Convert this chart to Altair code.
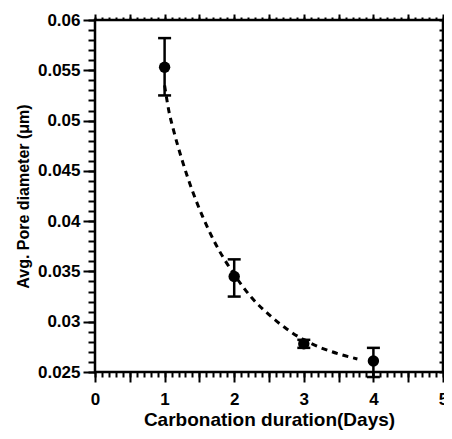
import altair as alt
import pandas as pd

# measured points (days vs avg pore diameter)
days = [1, 2, 3, 4]
diam = [0.0553, 0.0345, 0.0278, 0.0261]
err_lo = [0.0525, 0.0325, 0.0274, 0.0245]
err_hi = [0.0582, 0.0362, 0.0282, 0.0274]

# dashed fit curve
curve_x = [1.0, 1.06, 1.13, 1.25, 1.4, 1.55, 1.72, 2.0, 2.25, 2.5, 2.75, 3.0, 3.25, 3.5, 3.77]
curve_y = [0.0535, 0.0510, 0.0490, 0.0461, 0.0430, 0.0404, 0.0379, 0.0347, 0.0324,
           0.0307, 0.0293, 0.0282, 0.0274, 0.0268, 0.0263]

x_major = [round(i * 0.5, 1) for i in range(11)]
x_minor = [round(i * 0.1, 1) for i in range(51)]
y_major = [round(0.025 + i * 0.005, 3) for i in range(8)]
y_minor = [round(0.025 + i * 0.001, 3) for i in range(36)]

pts = pd.DataFrame({"x": days, "y": diam, "lo": err_lo, "hi": err_hi})
caps = pd.DataFrame({"x": days + days, "y": err_lo + err_hi})
curve = pd.DataFrame({"x": curve_x, "y": curve_y})

FONT = "Liberation Sans"
xs = alt.Scale(domain=[0, 5], nice=False, zero=False)
ys = alt.Scale(domain=[0.025, 0.06], nice=False, zero=False)

common = dict(grid=False, domain=False, tickColor="black", tickWidth=2,
              labelFont=FONT, labelFontSize=17, labelFontWeight="bold",
              labelColor="black", titleFont=FONT, titleFontWeight="bold",
              titleColor="black")

ax_bottom = alt.Axis(orient="bottom", values=x_major, tickSize=10,
                     labelExpr="datum.value % 1 == 0 ? format(datum.value, 'd') : ''",
                     labelPadding=9, labelFlush=False, labelOverlap=False,
                     title="Carbonation duration(Days)", titleFontSize=19,
                     titlePadding=3, **common)
ax_bottom_minor = alt.Axis(orient="bottom", values=x_minor, tickSize=5, labels=False,
                           title=None, **common)
ax_top = alt.Axis(orient="top", values=x_major, tickSize=6, labels=False, title=None, **common)
ax_top_minor = alt.Axis(orient="top", values=x_minor, tickSize=3, labels=False, title=None, **common)
ax_left = alt.Axis(orient="left", values=y_major, tickSize=12, format="~g",
                   labelPadding=3, labelFlush=False, labelOverlap=False,
                   title="Avg. Pore diameter (μm)", titleFontSize=16,
                   titlePadding=6, **common)
ax_left_minor = alt.Axis(orient="left", values=y_minor, tickSize=7, labels=False,
                         title=None, **common)
ax_right = alt.Axis(orient="right", values=y_minor, tickSize=4, offset=-4, labels=False,
                    title=None, **common)

line = alt.Chart(curve).mark_line(color="black", strokeWidth=3, strokeDash=[6, 5],
                                  interpolate="monotone").encode(
    x=alt.X("x:Q", scale=xs, axis=ax_bottom),
    y=alt.Y("y:Q", scale=ys, axis=ax_left),
)

bars = alt.Chart(pts).mark_rule(color="black", strokeWidth=2.5).encode(
    x=alt.X("x:Q", scale=xs, axis=ax_bottom_minor),
    y=alt.Y("lo:Q", scale=ys, axis=ax_left_minor),
    y2="hi:Q",
)

capmarks = alt.Chart(caps).mark_tick(color="black", orient="horizontal", size=13,
                                     thickness=2.5, opacity=1).encode(
    x=alt.X("x:Q", scale=xs, axis=ax_top),
    y=alt.Y("y:Q", scale=ys, axis=ax_right),
)

points = alt.Chart(pts).mark_circle(color="black", size=130, opacity=1).encode(
    x=alt.X("x:Q", scale=xs, axis=ax_top_minor),
    y=alt.Y("y:Q", scale=ys, axis=None),
)

chart = alt.layer(line, bars, capmarks, points).resolve_axis(
    x="independent", y="independent"
).properties(
    width=348, height=352,
    autosize=alt.AutoSizeParams(type="none"),
    padding={"left": 87, "top": 12, "right": 1, "bottom": 59},
    background="white",
).configure_view(stroke="black", strokeWidth=2.5)

chart.save("out.html", embed_options={"renderer": "svg", "actions": False})
